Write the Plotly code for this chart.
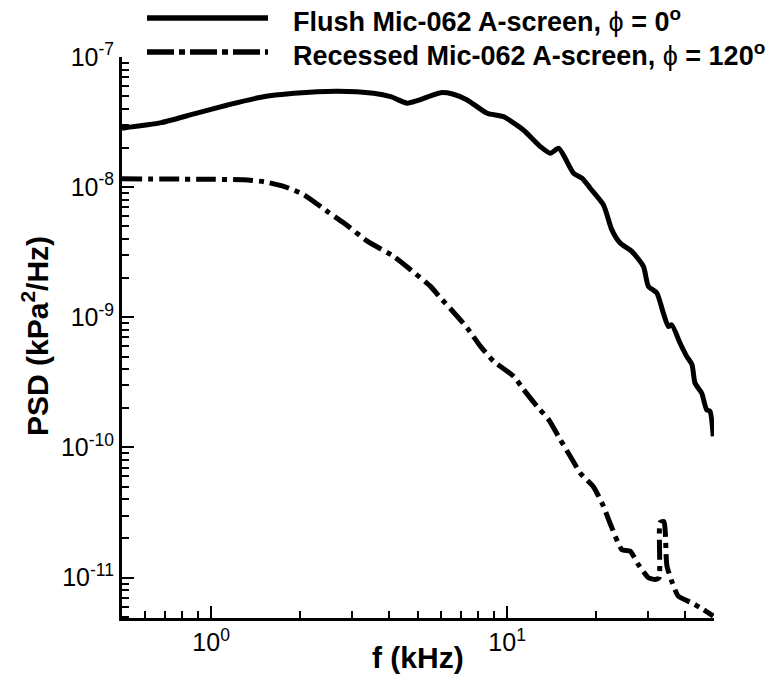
import plotly.graph_objects as go

# Frequency (kHz) and PSD (kPa^2/Hz) for the flush-mounted microphone, phi = 0 deg
flush_f = [0.50, 0.678, 0.876, 1.138, 1.474, 1.905, 2.68, 3.54, 4.04, 4.60, 4.97,
           5.96, 6.54, 7.33, 8.56, 9.72, 11.35, 12.95, 14.0, 14.93, 16.77, 17.94,
           19.09, 21.16, 22.59, 24.09, 26.38, 28.87, 30.01, 32.04, 33.71, 35.05,
           35.98, 38.38, 40.44, 42.13, 43.13, 45.42, 47.22, 48.45, 49.7]
flush_psd = [2.84e-8, 3.13e-8, 3.66e-8, 4.28e-8, 4.91e-8, 5.26e-8, 5.46e-8, 5.26e-8,
             4.96e-8, 4.42e-8, 4.62e-8, 5.32e-8, 5.20e-8, 4.68e-8, 3.70e-8, 3.48e-8,
             2.75e-8, 2.05e-8, 1.82e-8, 1.99e-8, 1.28e-8, 1.17e-8, 9.82e-9, 7.31e-9,
             4.70e-9, 3.72e-9, 3.21e-9, 2.46e-9, 1.73e-9, 1.54e-9, 1.08e-9, 8.51e-10,
             8.77e-10, 6.35e-10, 5.01e-10, 4.33e-10, 3.13e-10, 2.62e-10, 1.95e-10,
             1.90e-10, 1.22e-10]

# Recessed microphone, phi = 120 deg
recessed_f = [0.50, 0.925, 1.29, 1.51, 1.77, 2.06, 2.47, 2.81, 3.38, 4.15, 4.72,
              5.51, 5.96, 6.78, 7.33, 8.13, 9.01, 10.52, 11.38, 12.62, 13.81, 15.12,
              16.34, 17.66, 19.59, 21.16, 22.29, 24.42, 26.04, 27.77, 30.01, 31.61,
              32.61, 32.87, 33.9, 34.29, 34.43, 34.70, 35.98, 37.87, 42.03, 45.98,
              49.70]
recessed_psd = [1.16e-8, 1.15e-8, 1.14e-8, 1.10e-8, 1.01e-8, 8.73e-9, 6.50e-9,
                5.30e-9, 3.83e-9, 2.93e-9, 2.32e-9, 1.73e-9, 1.41e-9, 1.02e-9,
                8.28e-10, 5.98e-10, 4.59e-10, 3.52e-10, 2.78e-10, 2.07e-10, 1.64e-10,
                1.15e-10, 8.57e-11, 6.38e-11, 4.97e-11, 3.54e-11, 2.61e-11, 1.64e-11,
                1.60e-11, 1.26e-11, 9.98e-12, 9.68e-12, 1.00e-11, 2.65e-11, 2.70e-11,
                2.07e-11, 1.51e-11, 1.22e-11, 9.39e-12, 7.21e-12, 6.41e-12, 5.70e-12,
                5.07e-12]

x_ticks = [1, 10]
x_ticktext = ["10<sup>0</sup>", "10<sup>1</sup>"]
y_ticks = [1e-11, 1e-10, 1e-9, 1e-8, 1e-7]
y_ticktext = ["10<sup>-11</sup>", "10<sup>-10</sup>", "10<sup>-9</sup>",
              "10<sup>-8</sup>", "10<sup>-7</sup>"]

series_names = ["<b>Flush Mic-062 A-screen, </b>ϕ<b> = 0<sup>o</sup></b>",
                "<b>Recessed Mic-062 A-screen, </b>ϕ<b> = 120<sup>o</sup></b>"]

FONT = "Liberation Sans, Arial, Helvetica, sans-serif"
W, H = 775, 679
ML, MR, MT, MB = 122, 61, 57, 61
DASHDOT = "20px,6px,5px,6px"

fig = go.Figure()
fig.add_trace(go.Scatter(x=flush_f, y=flush_psd, mode="lines",
                         line=dict(color="black", width=5, shape="spline", smoothing=0.6),
                         showlegend=False))
fig.add_trace(go.Scatter(x=recessed_f, y=recessed_psd, mode="lines",
                         line=dict(color="black", width=5, dash=DASHDOT,
                                   shape="spline", smoothing=0.5),
                         showlegend=False))

minor_x = [v * 10 ** d for d in (-1, 0, 1) for v in range(2, 10)]
minor_y = [v * 10.0 ** d for d in range(-12, -7) for v in range(2, 10)]

axis_common = dict(type="log", showline=True, linewidth=3, linecolor="black",
                   ticks="inside", ticklen=12, tickwidth=2, tickcolor="black",
                   showgrid=False, zeroline=False, mirror=False,
                   tickfont=dict(family=FONT, size=25, color="black"))

fig.update_xaxes(range=[-0.30103, 1.69897], tickmode="array", tickvals=x_ticks,
                 ticktext=x_ticktext,
                 minor=dict(tickmode="array", tickvals=minor_x, ticks="inside",
                            ticklen=7, tickwidth=1.5, tickcolor="black"),
                 **axis_common)
fig.update_yaxes(range=[-11.31, -7], tickmode="array", tickvals=y_ticks,
                 ticktext=y_ticktext,
                 minor=dict(tickmode="array", tickvals=minor_y, ticks="inside",
                            ticklen=7, tickwidth=1.5, tickcolor="black"),
                 **axis_common)

pw = W - ML - MR
ph = H - MT - MB


def px_to_paper(px, py):
    return (px - ML) / pw, (H - MB - py) / ph


# Legend drawn above the plot area
legend_rows = [(18, None), (52, "27px,5px,6px,5px")]
for (row_y, dash), name in zip(legend_rows, series_names):
    x0, y0 = px_to_paper(147, row_y)
    x1, _ = px_to_paper(268, row_y)
    fig.add_shape(type="line", xref="paper", yref="paper", x0=x0, x1=x1, y0=y0, y1=y0,
                  line=dict(color="black", width=5.5, dash=dash or "solid"))
    tx, ty = px_to_paper(291, row_y + 2)
    fig.add_annotation(xref="paper", yref="paper", x=tx, y=ty, text=name,
                       showarrow=False, xanchor="left", yanchor="middle",
                       font=dict(family=FONT, size=27, color="black"))

# Axis titles
tx, ty = px_to_paper(0, 657)
fig.add_annotation(xref="paper", yref="paper", x=0.5, y=ty, text="<b>f (kHz)</b>",
                   showarrow=False, xanchor="center", yanchor="middle",
                   font=dict(family=FONT, size=30, color="black"))
tx, ty = px_to_paper(35, 336)
fig.add_annotation(xref="paper", yref="paper", x=tx, y=ty,
                   text="<b>PSD (kPa<sup>2</sup>/Hz)</b>", textangle=-90,
                   showarrow=False, xanchor="center", yanchor="middle",
                   font=dict(family=FONT, size=30, color="black"))

fig.update_layout(width=W, height=H, margin=dict(l=ML, r=MR, t=MT, b=MB),
                  paper_bgcolor="white", plot_bgcolor="white",
                  font=dict(family=FONT, color="black"), showlegend=False)

fig.write_html("out.html")
